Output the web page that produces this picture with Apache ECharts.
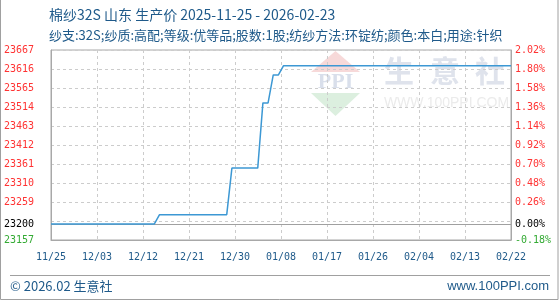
<!DOCTYPE html>
<html>
<head>
<meta charset="utf-8">
<script src="https://cdn.jsdelivr.net/npm/echarts@6/dist/echarts.min.js"></script>
<style>
html,body{margin:0;padding:0;background:#fff;}
#c{width:560px;height:300px;}
</style>
</head>
<body>
<div id="c"></div>
<script>
var titleText = '棉纱32S 山东 生产价 2025-11-25 - 2026-02-23';
var subText = '纱支:32S;纱质:高配;等级:优等品;股数:1股;纺纱方法:环锭纺;颜色:本白;用途:针织';

var dates = [
'11/25','11/26','11/27','11/28','11/29','11/30',
'12/01','12/02','12/03','12/04','12/05','12/06','12/07','12/08','12/09','12/10',
'12/11','12/12','12/13','12/14','12/15','12/16','12/17','12/18','12/19','12/20',
'12/21','12/22','12/23','12/24','12/25','12/26','12/27','12/28','12/29','12/30','12/31',
'01/01','01/02','01/03','01/04','01/05','01/06','01/07','01/08','01/09','01/10',
'01/11','01/12','01/13','01/14','01/15','01/16','01/17','01/18','01/19','01/20',
'01/21','01/22','01/23','01/24','01/25','01/26','01/27','01/28','01/29','01/30','01/31',
'02/01','02/02','02/03','02/04','02/05','02/06','02/07','02/08','02/09','02/10',
'02/11','02/12','02/13','02/14','02/15','02/16','02/17','02/18','02/19','02/20',
'02/21','02/22'
];

var prices = [
23200,23200,23200,23200,23200,23200,
23200,23200,23200,23200,23200,23200,23200,23200,23200,23200,
23200,23200,23200,23200,23200,23225,23225,23225,23225,23225,
23225,23225,23225,23225,23225,23225,23225,23225,23225,23350,23350,
23350,23350,23350,23350,23525,23525,23600,23600,23625,23625,
23625,23625,23625,23625,23625,23625,23625,23625,23625,23625,
23625,23625,23625,23625,23625,23625,23625,23625,23625,23625,23625,
23625,23625,23625,23625,23625,23625,23625,23625,23625,23625,
23625,23625,23625,23625,23625,23625,23625,23625,23625,23625,
23625,23625
];

var basePrice = 23200;
var yMin = 23157, yMax = 23667, yStep = 51;
var yLabelValues = [23157, 23200, 23259, 23310, 23361, 23412, 23463, 23514, 23565, 23616, 23667];

var seriesData = prices.map(function (v, i) { return [i, v]; });

function labelColor(v) {
  if (Math.abs(v - basePrice) < 0.5) return '#000000';
  return v > basePrice ? '#ff3333' : '#33aa33';
}
function pct(v) {
  var p = Math.ceil((v - basePrice) / basePrice * 10000 - 1e-9) / 100;
  return p.toFixed(2) + '%';
}

var mono = 'DejaVu Sans Mono';
var cjk = '"Noto Sans CJK SC", "Noto Sans", sans-serif';
var blueText = '#1f5a8a';

var chart = echarts.init(document.getElementById('c'), null, {renderer: 'canvas'});
chart.setOption({
  animation: false,
  backgroundColor: '#ffffff',
  grid: {left: 51, right: 49, top: 50, bottom: 60, show: true, borderColor: '#a8a8a8', borderWidth: 1},
  xAxis: {
    type: 'value',
    min: 0,
    max: dates.length - 1,
    interval: (dates.length - 1) / 10,
    axisLine: {show: true, lineStyle: {color: '#a8a8a8'}},
    axisTick: {show: false},
    splitLine: {show: true, lineStyle: {color: '#cccccc', type: [3, 3]}},
    axisLabel: {
      margin: 12,
      fontFamily: mono, fontSize: 10, color: blueText,
      formatter: function (v) { return dates[Math.floor(v + 1e-6)] || ''; }
    }
  },
  yAxis: [{
    type: 'value',
    min: yMin, max: yMax, interval: yStep,
    position: 'left',
    axisLine: {show: true, lineStyle: {color: '#a8a8a8'}},
    axisTick: {show: false},
    splitLine: {show: true, lineStyle: {color: '#cccccc', type: [3, 3]}},
    axisLabel: {
      customValues: yLabelValues,
      margin: 17,
      fontFamily: mono, fontSize: 10,
      color: function (v) { return labelColor(Number(v)); },
      formatter: function (v) { return String(Math.round(v)); }
    }
  }, {
    type: 'value',
    min: yMin, max: yMax, interval: yStep,
    position: 'right',
    axisLine: {show: true, lineStyle: {color: '#a8a8a8'}},
    axisTick: {show: false},
    splitLine: {show: false},
    axisLabel: {
      customValues: yLabelValues,
      margin: 4,
      fontFamily: mono, fontSize: 10,
      color: function (v) { return labelColor(Number(v)); },
      formatter: function (v) { return pct(v); }
    }
  }],
  graphic: [
    {type: 'polygon', z: -10, shape: {points: [[311, 72], [335.5, 51], [360, 72]]}, style: {fill: '#f7d9d9'}},
    {type: 'text', z: -10, x: 335.5, y: 82, style: {text: 'PPI', fontFamily: 'Liberation Serif', fontWeight: 'bold', fontSize: 22, fill: '#d9dfeb', align: 'center', verticalAlign: 'middle'}},
    {type: 'polygon', z: -10, shape: {points: [[311, 93], [360, 93], [335.5, 116]]}, style: {fill: '#dcefdf'}},
    {type: 'text', z: -10, x: 399, y: 71, style: {text: '生', fontFamily: cjk, fontWeight: 'bold', fontSize: 30, fill: '#dfe3ec', align: 'center', verticalAlign: 'middle'}},
    {type: 'text', z: -10, x: 445, y: 71, style: {text: '意', fontFamily: cjk, fontWeight: 'bold', fontSize: 30, fill: '#dfe3ec', align: 'center', verticalAlign: 'middle'}},
    {type: 'text', z: -10, x: 490, y: 71, style: {text: '社', fontFamily: cjk, fontWeight: 'bold', fontSize: 30, fill: '#dfe3ec', align: 'center', verticalAlign: 'middle'}},
    {type: 'text', z: -10, x: 446.5, y: 103, style: {text: 'WWW.100PPI.COM', fontFamily: 'Liberation Sans', fontSize: 14, fill: '#ebebeb', align: 'center', verticalAlign: 'middle'}},
    {type: 'text', x: 49, y: 15, style: {text: titleText, fontFamily: cjk, fontSize: 14, fill: blueText, verticalAlign: 'middle'}},
    {type: 'text', x: 49, y: 35, style: {text: subText, fontFamily: cjk, fontSize: 13, fill: blueText, verticalAlign: 'middle'}},
    {type: 'line', shape: {x1: 10, y1: 275.5, x2: 550, y2: 275.5}, style: {stroke: '#a0a0a0', lineWidth: 1}},
    {type: 'text', x: 10, y: 286, style: {text: '© 2026.02 生意社', fontFamily: cjk, fontSize: 13, fill: blueText, verticalAlign: 'middle'}},
    {type: 'text', x: 549, y: 286, style: {text: 'www.100PPI.com', fontFamily: 'Liberation Sans', fontSize: 13, fill: blueText, align: 'right', verticalAlign: 'middle'}},
    {type: 'rect', shape: {x: 0.5, y: -2, width: 557.5, height: 301.5}, style: {fill: 'none', stroke: '#a0a0a0', lineWidth: 1}}
  ],
  series: [{
    type: 'line',
    data: seriesData,
    showSymbol: false,
    symbol: 'none',
    lineStyle: {color: '#3c98d4', width: 1.5},
    z: 5,
    markLine: {
      silent: true,
      symbol: 'none',
      label: {show: false},
      lineStyle: {color: '#a0a0a0', type: 'solid', width: 1},
      z: 3,
      data: [{yAxis: basePrice}]
    }
  }]
});
</script>
</body>
</html>
